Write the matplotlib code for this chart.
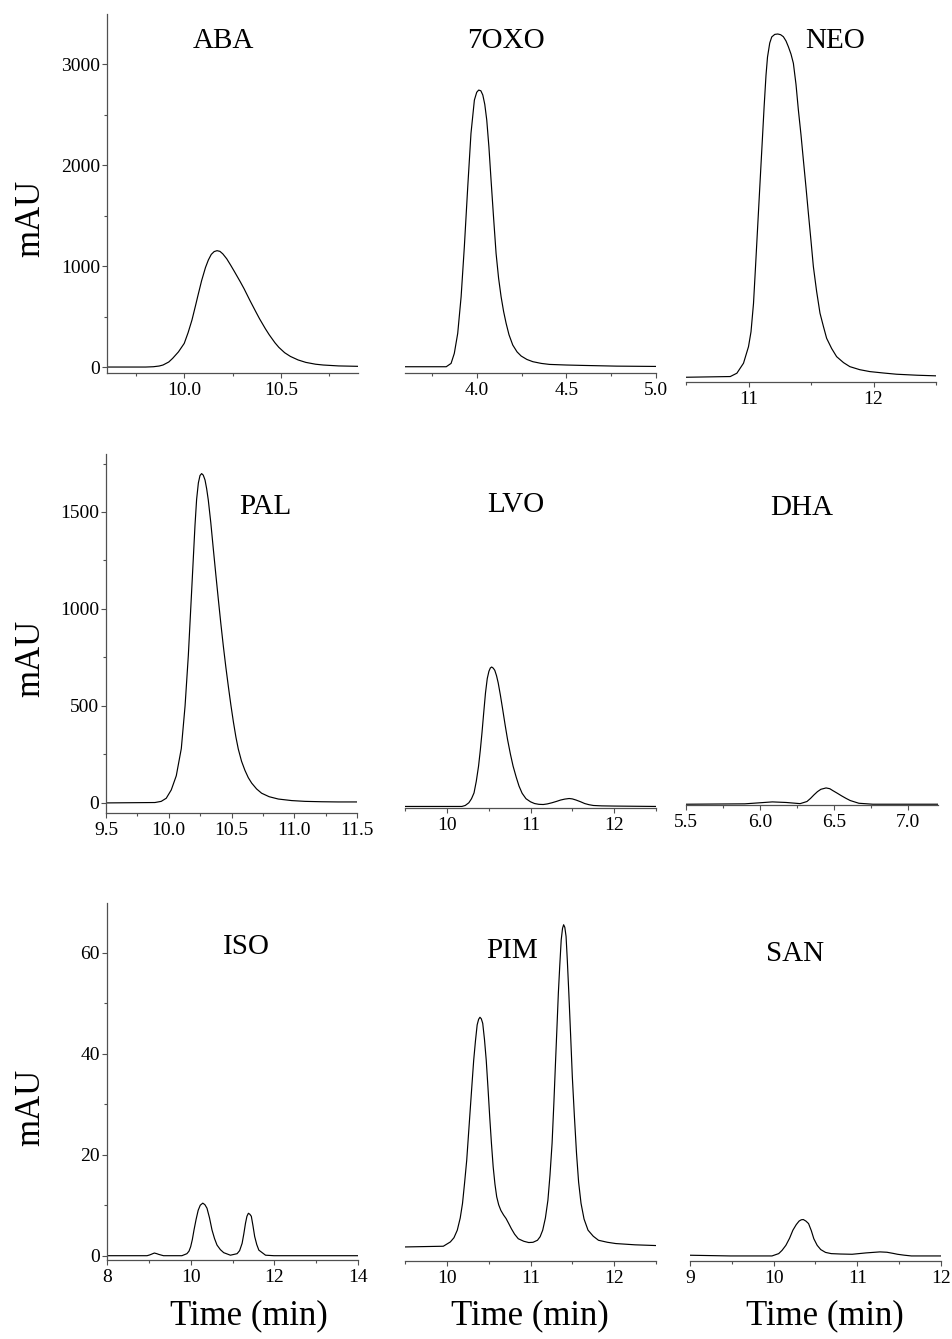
import matplotlib
matplotlib.use('Agg')
from matplotlib import pyplot as plt
from matplotlib.ticker import MultipleLocator, FormatStrFormatter

plt.rcParams['font.family'] = ['Liberation Serif', 'DejaVu Serif']

W, H = 952, 1339  # output size in pixels (dpi 100)

# ---- chromatogram readings: time (min) / signal (mAU) ----
aba_t = [9.60, 9.80, 9.84, 9.87, 9.89, 9.92, 9.94, 9.97, 10.00, 10.02, 10.04, 10.06, 10.07, 10.09,
         10.11, 10.125, 10.14, 10.155, 10.17, 10.185, 10.20, 10.22, 10.24, 10.26, 10.29, 10.31,
         10.34, 10.37, 10.39, 10.42, 10.44, 10.47, 10.49, 10.52, 10.55, 10.59, 10.63, 10.68,
         10.72, 10.80, 10.90]
aba_mau = [0, 0, 3, 10, 20, 50, 86, 150, 234, 340, 465, 620, 700, 855, 985, 1060, 1115, 1143,
           1152, 1145, 1120, 1072, 1010, 945, 845, 775, 660, 550, 478, 380, 320, 240, 195, 142,
           105, 70, 46, 28, 20, 11, 7]

oxo_t = [3.60, 3.83, 3.857, 3.875, 3.894, 3.913, 3.931, 3.95, 3.968, 3.987, 4.00, 4.011, 4.023,
         4.034, 4.045, 4.056, 4.068, 4.08, 4.094, 4.108, 4.122, 4.136, 4.15, 4.164, 4.18, 4.201,
         4.225, 4.248, 4.28, 4.313, 4.36, 4.406, 4.50, 4.593, 4.70, 4.779, 5.0]
oxo_mau = [3, 3, 36, 135, 333, 696, 1191, 1785, 2313, 2643, 2720, 2742, 2735, 2693, 2600, 2445,
           2180, 1851, 1480, 1125, 880, 696, 550, 433, 320, 218, 150, 109, 75, 53, 36, 26, 20,
           16, 12, 9, 6]

neo_t = [10.50, 10.854, 10.907, 10.96, 11.00, 11.02, 11.04, 11.056, 11.072, 11.085, 11.098,
         11.112, 11.125, 11.14, 11.152, 11.17, 11.186, 11.21, 11.234, 11.257, 11.279, 11.30,
         11.319, 11.34, 11.359, 11.38, 11.399, 11.42, 11.439, 11.46, 11.479, 11.50, 11.519,
         11.545, 11.572, 11.60, 11.625, 11.665, 11.705, 11.76, 11.811, 11.89, 11.971, 12.08,
         12.184, 12.35, 12.50]
neo_mau = [0, 7, 40, 139, 303, 450, 730, 1090, 1460, 1760, 2060, 2380, 2680, 2990, 3170, 3310,
           3370, 3395, 3399, 3392, 3372, 3330, 3273, 3200, 3109, 2900, 2646, 2400, 2151, 1880,
           1624, 1350, 1095, 850, 634, 500, 386, 285, 204, 145, 105, 75, 56, 42, 30, 20, 14]

pal_t = [9.50, 9.89, 9.94, 9.98, 10.02, 10.06, 10.10, 10.13, 10.156, 10.183, 10.209, 10.222,
         10.236, 10.249, 10.262, 10.275, 10.289, 10.302, 10.315, 10.335, 10.355, 10.375, 10.395,
         10.415, 10.435, 10.455, 10.475, 10.495, 10.515, 10.535, 10.554, 10.58, 10.607, 10.634,
         10.661, 10.70, 10.74, 10.80, 10.873, 10.98, 11.086, 11.22, 11.35, 11.50]
pal_mau = [0, 2, 8, 24, 67, 140, 280, 500, 760, 1100, 1430, 1565, 1650, 1688, 1698, 1690, 1665,
           1620, 1562, 1445, 1310, 1178, 1050, 925, 808, 700, 600, 505, 418, 340, 278, 215, 168,
           130, 102, 72, 50, 32, 20, 12, 8, 6, 5, 5]

lvo_t = [9.50, 10.18, 10.22, 10.263, 10.295, 10.325, 10.352, 10.379, 10.40, 10.42, 10.44, 10.462,
         10.483, 10.503, 10.52, 10.536, 10.555, 10.573, 10.594, 10.614, 10.64, 10.668, 10.697,
         10.726, 10.76, 10.792, 10.83, 10.863, 10.90, 10.946, 11.00, 11.049, 11.10, 11.152,
         11.20, 11.256, 11.31, 11.359, 11.41, 11.462, 11.50, 11.545, 11.60, 11.648, 11.70,
         11.752, 11.85, 12.00, 12.25, 12.50]
lvo_mau = [0, 0, 5, 19, 40, 70, 130, 208, 290, 380, 480, 586, 660, 698, 715, 720, 714, 703, 675,
           638, 575, 500, 420, 345, 270, 208, 150, 105, 68, 40, 24, 15, 11, 10, 13, 19, 26, 33,
           38, 41, 39, 33, 24, 15, 9, 5, 3, 2, 1, 0]

dha_t = [5.50, 5.897, 5.99, 6.083, 6.176, 6.27, 6.316, 6.34, 6.363, 6.387, 6.41, 6.445, 6.47,
         6.491, 6.52, 6.55, 6.58, 6.608, 6.666, 6.76, 7.20]
dha_mau = [0, 2, 7, 12, 9, 3, 14, 30, 48, 65, 77, 84, 80, 70, 57, 43, 30, 19, 5, 0, 0]

iso_t = [8.00, 8.957, 9.02, 9.076, 9.132, 9.19, 9.236, 9.35, 9.79, 9.91, 9.96, 10.00, 10.04,
         10.08, 10.13, 10.18, 10.23, 10.29, 10.34, 10.39, 10.45, 10.51, 10.57, 10.63, 10.71,
         10.79, 10.95, 11.11, 11.17, 11.23, 11.27, 11.31, 11.345, 11.38, 11.415, 11.45, 11.49,
         11.53, 11.58, 11.63, 11.79, 11.99, 14.00]
iso_mau = [0, 0, 0.15, 0.34, 0.53, 0.4, 0.26, 0, 0, 0.4, 0.9, 1.78, 3.2, 5.1, 7.2, 9.0, 10.0,
           10.4, 10.1, 9.4, 7.5, 5.1, 3.4, 2.1, 1.2, 0.6, 0.1, 0.4, 1.0, 2.45, 4.3, 6.4, 7.8,
           8.4, 8.2, 7.8, 5.9, 3.8, 2.2, 1.1, 0.1, 0, 0]

pim_t = [9.50, 9.958, 10.042, 10.085, 10.125, 10.16, 10.1875, 10.2125, 10.2375, 10.258, 10.279,
         10.30, 10.321, 10.342, 10.3625, 10.38, 10.396, 10.412, 10.429, 10.45, 10.471, 10.492,
         10.5125, 10.533, 10.554, 10.575, 10.596, 10.62, 10.646, 10.678, 10.708, 10.74, 10.771,
         10.81, 10.854, 10.92, 10.979, 11.03, 11.083, 11.115, 11.146, 11.178, 11.208, 11.233,
         11.258, 11.28, 11.30, 11.317, 11.333, 11.35, 11.367, 11.383, 11.396, 11.41, 11.425,
         11.44, 11.458, 11.48, 11.50, 11.525, 11.55, 11.575, 11.604, 11.64, 11.6875, 11.75,
         11.8125, 11.92, 12.02, 12.25, 12.508]
pim_mau = [1.78, 1.92, 2.77, 3.6, 5.1, 7.5, 10.4, 14.5, 18.9, 23.8, 28.8, 33.8, 38.7, 42.5, 45.7,
           46.8, 47.2, 46.9, 46.0, 42.8, 38.7, 33.2, 27.5, 22.3, 17.6, 14.2, 11.7, 10.1, 9.0,
           8.1, 7.4, 6.4, 5.4, 4.3, 3.4, 2.9, 2.65, 2.7, 3.1, 3.8, 5.1, 7.5, 11.0, 16.0, 22.3,
           30.5, 38.7, 45.5, 52.0, 57.5, 62.5, 64.8, 65.5, 65.0, 63.2, 58.5, 52.0, 43.5, 35.4,
           27.5, 20.3, 14.6, 10.4, 7.3, 5.1, 3.9, 3.1, 2.7, 2.45, 2.2, 2.05]

san_t = [9.00, 9.48, 9.98, 10.06, 10.10, 10.146, 10.19, 10.23, 10.27, 10.304, 10.33, 10.354,
         10.385, 10.417, 10.45, 10.48, 10.52, 10.5625, 10.62, 10.6875, 10.80, 10.9375, 11.104,
         11.27, 11.354, 11.43, 11.48, 11.56, 11.646, 12.00]
san_mau = [0.14, 0, 0, 0.46, 1.1, 2.1, 3.5, 5.1, 6.2, 6.9, 7.15, 7.2, 6.9, 6.4, 5.0, 3.4, 2.1,
           1.26, 0.7, 0.46, 0.38, 0.33, 0.6, 0.8, 0.73, 0.5, 0.33, 0.15, 0, 0]

names = ['ABA', '7OXO', 'NEO', 'PAL', 'LVO', 'DHA', 'ISO', 'PIM', 'SAN']
times = [aba_t, oxo_t, neo_t, pal_t, lvo_t, dha_t, iso_t, pim_t, san_t]
signals = [aba_mau, oxo_mau, neo_mau, pal_mau, lvo_mau, dha_mau, iso_mau, pim_mau, san_mau]
xlims = [(9.6, 10.9), (3.6, 5.0), (10.5, 12.5), (9.5, 11.5), (9.5, 12.5), (5.5, 7.2),
         (8, 14), (9.5, 12.5), (9, 12)]
ylims = [(-59, 3495), (-59, 3495), (-47, 3597), (-52, 1799), (-8, 1820), (-4, 1806),
         (-0.85, 69.8), (-1.0, 69.8), (-1.0, 69.8)]
x_major = [0.5, 0.5, 1, 0.5, 1, 0.5, 2, 1, 1]
x_fmt = ['%.1f', '%.1f', '%d', '%.1f', '%d', '%.1f', '%d', '%d', '%d']
y_major = [1000, None, None, 500, None, None, 20, None, None]

# axes boxes in pixels: left, right, top, bottom (bottom = x axis line)
boxes = [(107, 358, 14, 373), (405, 656, 14, 373), (686, 936, 14, 382),
         (106, 357, 454, 813), (405, 656, 454, 808), (686, 938, 454, 805),
         (107, 358, 903, 1260), (405, 656, 903, 1261), (690, 941, 903, 1261)]
# panel names: centre x and baseline y in pixels
name_pos = [(223, 48), (506, 48), (835, 48), (265, 514), (516, 512), (802, 515),
            (246, 954), (512, 958), (795, 961)]

fig = plt.figure(figsize=(W / 100, H / 100), dpi=100)
axis_col = '#505050'

for i in range(9):
    l, r, t, b = boxes[i]
    ax = fig.add_axes([l / W, 1 - b / H, (r - l) / W, (b - t) / H])
    ax.plot(times[i], signals[i], color='black', lw=0.85)
    ax.set_xlim(xlims[i])
    ax.set_ylim(ylims[i])
    for s in ['top', 'right']:
        ax.spines[s].set_visible(False)
    ax.spines['bottom'].set_color(axis_col)
    ax.spines['bottom'].set_linewidth(0.9)
    ax.xaxis.set_major_locator(MultipleLocator(x_major[i]))
    ax.xaxis.set_minor_locator(MultipleLocator(x_major[i] / 2))
    ax.xaxis.set_major_formatter(FormatStrFormatter(x_fmt[i]))
    ax.tick_params(axis='x', which='major', direction='out', length=3.6, width=0.8,
                   color=axis_col, pad=3.0, labelsize=14)
    ax.tick_params(axis='x', which='minor', direction='out', length=2.2, width=0.8,
                   color=axis_col)
    if y_major[i]:
        ax.spines['left'].set_color(axis_col)
        ax.spines['left'].set_linewidth(0.9)
        ax.yaxis.set_major_locator(MultipleLocator(y_major[i]))
        ax.yaxis.set_minor_locator(MultipleLocator(y_major[i] / 2))
        ax.set_ylim(ylims[i])
        ax.tick_params(axis='y', which='major', direction='out', length=3.6, width=0.8,
                       color=axis_col, pad=1.5, labelsize=14)
        ax.tick_params(axis='y', which='minor', direction='out', length=2.2, width=0.8,
                       color=axis_col)
    else:
        ax.spines['left'].set_visible(False)
        ax.set_yticks([])
    ax.patch.set_alpha(0)

    nx, ny = name_pos[i]
    fig.text(nx / W, 1 - ny / H, names[i], ha='center', va='baseline', fontsize=21)

# y labels on the left column
for yc in [218, 658, 1107]:
    fig.text(31 / W, 1 - yc / H, 'mAU', rotation=90, ha='center', va='center', fontsize=25)

# x labels under the bottom row
for xc in [249, 530, 825]:
    fig.text(xc / W, 1 - 1324 / H, 'Time (min)', ha='center', va='baseline', fontsize=25)

fig.savefig('out.png', dpi=100)
